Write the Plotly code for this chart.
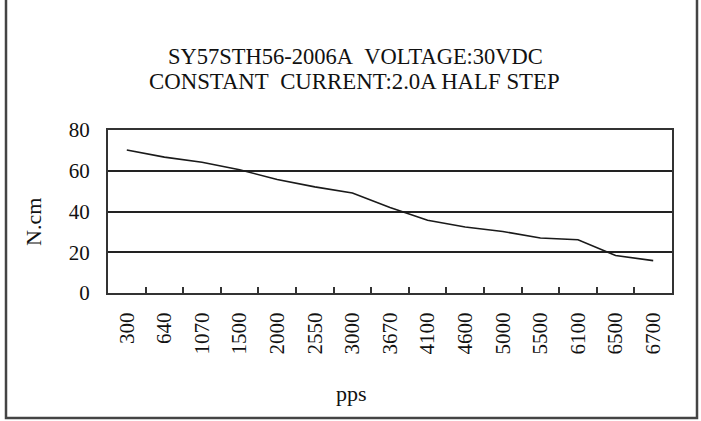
import plotly.graph_objects as go

# ---- data ----
speeds = ["300", "640", "1070", "1500", "2000", "2550", "3000", "3670",
          "4100", "4600", "5000", "5500", "6100", "6500", "6700"]
torque = [70.2, 66.7, 64.2, 60.5, 55.7, 52.1, 49.1, 42.0,
          35.7, 32.4, 30.2, 27.0, 26.1, 18.4, 15.9]
y_ticks = [0, 20, 40, 60, 80]

title1 = "SY57STH56-2006A&nbsp;&nbsp;VOLTAGE:30VDC"
title2 = "CONSTANT&nbsp;&nbsp;CURRENT:2.0A HALF STEP"
x_title = "pps"
y_title = "N.cm"

W, H = 701, 421
L, R, T, B = 108, 672, 130, 293   # plot area in pixels
FONT = "Liberation Serif, Times New Roman, serif"


def px(x):
    return (x - L) / (R - L)


def py(y):
    return (B - y) / (B - T)


fig = go.Figure()
fig.add_trace(go.Scatter(
    x=speeds, y=torque, mode="lines",
    line=dict(color="#1a1a1a", width=1.6),
    hoverinfo="skip", showlegend=False,
))

fig.update_layout(
    width=W, height=H,
    margin=dict(l=L, r=W - R, t=T, b=H - B, pad=0),
    paper_bgcolor="white", plot_bgcolor="white",
    font=dict(family=FONT, size=21, color="#111"),
    showlegend=False,
)

fig.update_xaxes(
    type="category", categoryorder="array", categoryarray=speeds,
    range=[-0.5, len(speeds) - 0.5],
    showline=True, linecolor="#333", linewidth=2, mirror=True,
    showgrid=False, zeroline=False,
    ticks="inside", tickson="boundaries", ticklen=6, tickwidth=1.5, tickcolor="#333",
    tickangle=-90, tickfont=dict(family=FONT, size=21, color="#111"),
    ticklabelstandoff=9,
)
fig.update_yaxes(
    range=[0, 80], tickvals=y_ticks,
    showline=True, linecolor="#333", linewidth=2, mirror=True,
    showgrid=True, gridcolor="#222", gridwidth=1.5, zeroline=False,
    ticks="", tickfont=dict(family=FONT, size=21, color="#111"),
    ticklabelstandoff=12,
)

fig.add_annotation(text=title1, xref="paper", yref="paper", x=px(355), y=py(56),
                   showarrow=False, xanchor="center", yanchor="middle",
                   font=dict(family=FONT, size=22.5, color="#111"))
fig.add_annotation(text=title2, xref="paper", yref="paper", x=px(354), y=py(81),
                   showarrow=False, xanchor="center", yanchor="middle",
                   font=dict(family=FONT, size=22.8, color="#111"))
fig.add_annotation(text=x_title, xref="paper", yref="paper", x=px(351), y=py(393),
                   showarrow=False, xanchor="center", yanchor="middle",
                   font=dict(family=FONT, size=22, color="#111"))
fig.add_annotation(text=y_title, xref="paper", yref="paper", x=px(33), y=py(222),
                   showarrow=False, xanchor="center", yanchor="middle", textangle=-90,
                   font=dict(family=FONT, size=22, color="#111"))

# outer frame
fig.add_shape(type="rect", xref="paper", yref="paper",
              x0=px(6), x1=px(697), y0=py(418), y1=py(-5),
              line=dict(color="#444", width=2.5), fillcolor="rgba(0,0,0,0)",
              layer="below")

fig.write_html(
    "out.html",
    config={"displayModeBar": False},
    post_script="document.body.style.margin='0';document.body.style.padding='0';"
                "document.body.style.overflow='hidden';",
)
